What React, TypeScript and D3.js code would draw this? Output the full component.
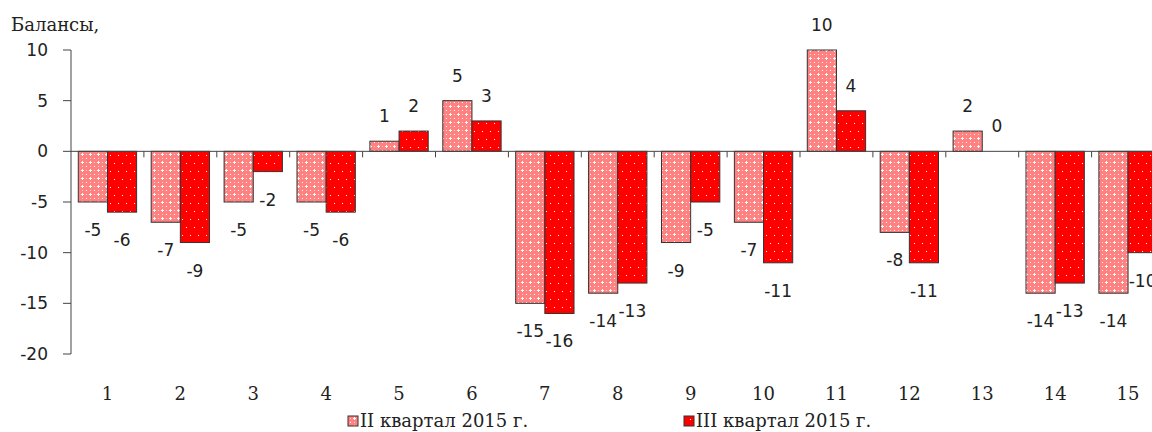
import React from 'react';
import * as d3 from 'd3';

// categories on the x axis
const categories = ['1', '2', '3', '4', '5', '6', '7', '8', '9', '10', '11', '12', '13', '14', '15'];
// balances, II quarter 2015
const q2 = [-5, -7, -5, -5, 1, 5, -15, -14, -9, -7, 10, -8, 2, -14, -14];
// balances, III quarter 2015
const q3 = [-6, -9, -2, -6, 2, 3, -16, -13, -5, -11, 4, -11, 0, -13, -10];
const yTicks = [10, 5, 0, -5, -10, -15, -20];
const seriesNames = ['II квартал 2015 г.', 'III квартал 2015 г.'];

const width = 1152,
  height = 432;
const axisX = 71;

export default function App() {
  const step = 72.9;
  const x = d3
    .scaleBand()
    .domain(categories)
    .range([axisX, axisX + step * categories.length])
    .paddingInner(0.2)
    .paddingOuter(0.1);

  const inner = d3.scaleBand().domain(['q2', 'q3']).range([0, x.bandwidth()]);

  const y = d3.scaleLinear().domain([-20, 10]).range([354, 50]);

  const series = [
    { key: 'q2', values: q2, fill: 'url(#pinkPat)' },
    { key: 'q3', values: q3, fill: 'url(#redPat)' },
  ];

  const numFont = '"DejaVu Sans", sans-serif';
  const serifFont = '"DejaVu Serif", serif';
  const ink = '#222';

  return (
    <svg
      width={width}
      height={height}
      viewBox={`0 0 ${width} ${height}`}
      style={{ position: 'absolute', left: 0, top: 0, background: '#fff' }}
    >
      <defs>
        <pattern id='pinkPat' patternUnits='userSpaceOnUse' width='8' height='8'>
          <rect width='8' height='8' fill='#ff8282' />
          <rect x='1' y='2' width='3' height='1' fill='#fff' />
          <rect x='2' y='1' width='1' height='3' fill='#fff' />
          <rect x='6' y='6' width='1' height='1' fill='#fff' />
          <rect x='6' y='2' width='1' height='1' fill='#ffd0d0' />
          <rect x='2' y='6' width='1' height='1' fill='#ffd0d0' />
        </pattern>
        <pattern id='redPat' patternUnits='userSpaceOnUse' width='8' height='16'>
          <rect width='8' height='16' fill='#ff0000' />
          <rect x='2' y='3' width='1' height='1' fill='#fff' />
          <rect x='6' y='11' width='1' height='1' fill='#fff' />
        </pattern>
      </defs>

      {/* title */}
      <text x={11} y={31} fontFamily={serifFont} fontSize={18} fill={ink}>
        Балансы,
      </text>

      {/* bars */}
      {series.map((s) =>
        s.values.map((v, i) => {
          const bx = (x(categories[i]) as number) + (inner(s.key) as number);
          const y0 = y(0);
          const y1 = y(v);
          return (
            <rect
              key={s.key + i}
              x={bx}
              y={Math.min(y0, y1)}
              width={inner.bandwidth()}
              height={Math.abs(y1 - y0)}
              fill={s.fill}
              stroke='#333'
              strokeWidth={1}
            />
          );
        })
      )}

      {/* y axis */}
      <line x1={axisX} x2={axisX} y1={y(10)} y2={y(-20)} stroke='#444' />
      {yTicks.map((t) => (
        <g key={t}>
          <line x1={axisX - 8} x2={axisX} y1={y(t)} y2={y(t)} stroke='#444' />
          <text
            x={48}
            y={y(t)}
            textAnchor='end'
            dominantBaseline='central'
            fontFamily={numFont}
            fontSize={17}
            fill={ink}
          >
            {t}
          </text>
        </g>
      ))}

      {/* x axis */}
      <line x1={axisX} x2={width} y1={y(0)} y2={y(0)} stroke='#444' />
      {categories.slice(1).map((c, i) => {
        const bx = axisX + (i + 1) * x.step();
        return <line key={c} x1={bx} x2={bx} y1={y(0)} y2={y(0) + 6} stroke='#444' />;
      })}
      {categories.map((c) => (
        <text
          key={c}
          x={(x(c) as number) + x.bandwidth() / 2}
          y={400}
          textAnchor='middle'
          fontFamily={serifFont}
          fontSize={18}
          fill={ink}
        >
          {c}
        </text>
      ))}

      {/* value labels */}
      {series.map((s) =>
        s.values.map((v, i) => {
          const cx = (x(categories[i]) as number) + (inner(s.key) as number) + inner.bandwidth() / 2;
          const ly = v < 0 ? y(v) + 28 : y(v) - 25;
          return (
            <text
              key={'l' + s.key + i}
              x={cx}
              y={ly}
              textAnchor='middle'
              dominantBaseline='central'
              fontFamily={numFont}
              fontSize={17}
              fill={ink}
            >
              {v}
            </text>
          );
        })
      )}

      {/* legend */}
      {[348, 684].map((lx, i) => (
        <g key={lx}>
          <rect
            x={lx}
            y={416}
            width={10}
            height={10}
            fill={series[i].fill}
            stroke='#333'
          />
          <text x={lx + 12} y={427} fontFamily={serifFont} fontSize={18} fill={ink}>
            {seriesNames[i]}
          </text>
        </g>
      ))}
    </svg>
  );
}
